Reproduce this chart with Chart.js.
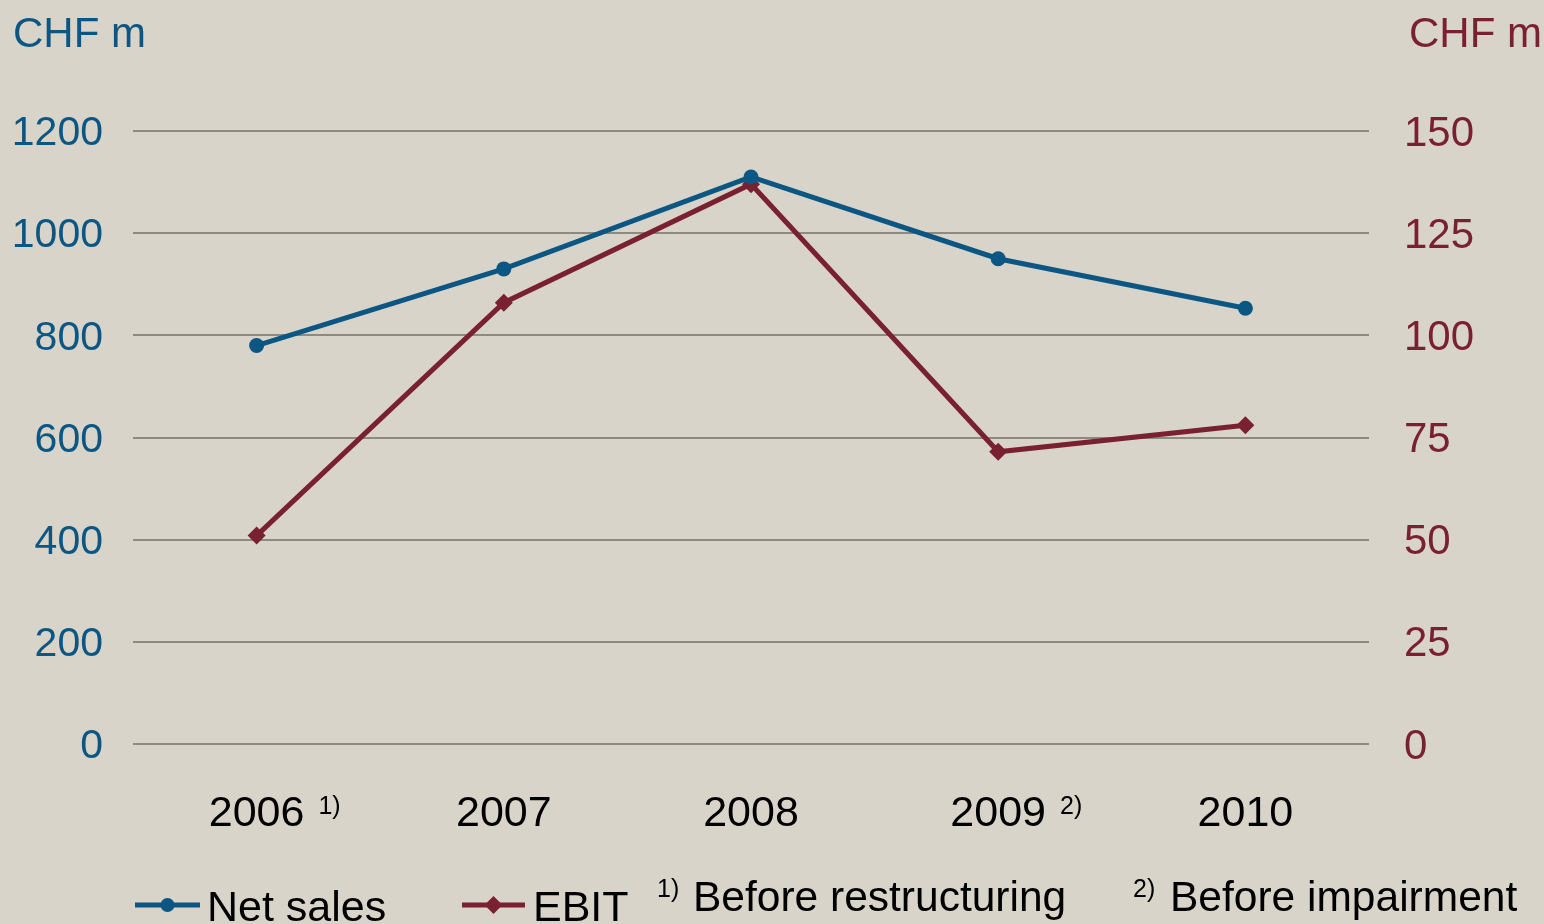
<!DOCTYPE html>
<html>
<head>
<meta charset="utf-8">
<script src="https://cdn.jsdelivr.net/npm/chart.js@4.4.0/dist/chart.umd.min.js"></script>
<style>
  html, body { margin: 0; padding: 0; background: #d8d4c9; }
  #wrap { width: 1544px; height: 924px; }
</style>
</head>
<body>
<div id="wrap"><canvas id="chart" width="1544" height="924"></canvas></div>
<script>
// ---- data ----
var years      = ['2006', '2007', '2008', '2009', '2010'];
var yearNotes  = ['1)', '', '', '2)', ''];
var netSales   = [780, 930, 1110, 950, 853];   // CHF m, left axis
var ebit       = [51, 108, 137, 71.5, 78];     // CHF m, right axis
var leftTicks  = [0, 1200, 200];               // min, max, step
var rightTicks = [0, 150, 25];
var footnotes  = ['Before restructuring', 'Before impairment'];

var BLUE = '#0b5683';
var RED = '#7a2131';
var BG = '#d8d4c9';
var FONT = "'Liberation Sans', Arial, sans-serif";

// draws the background, axis titles, year labels and the bottom legend row
var decorations = {
  id: 'decorations',
  beforeDraw: function (chart) {
    var ctx = chart.ctx;
    ctx.save();
    ctx.fillStyle = BG;
    ctx.fillRect(0, 0, chart.width, chart.height);
    ctx.restore();
  },
  afterDraw: function (chart) {
    var ctx = chart.ctx;
    var xs = chart.scales.x;
    ctx.save();

    // axis titles
    ctx.font = '42px ' + FONT;
    ctx.textBaseline = 'middle';
    ctx.fillStyle = BLUE;
    ctx.textAlign = 'left';
    ctx.fillText('CHF m', 13, 35);
    ctx.fillStyle = RED;
    ctx.fillText('CHF m', 1409, 35);

    // year labels with footnote markers
    ctx.fillStyle = '#000';
    years.forEach(function (y, i) {
      var px = xs.getPixelForValue(i);
      ctx.font = '43px ' + FONT;
      ctx.textAlign = 'center';
      ctx.textBaseline = 'alphabetic';
      ctx.fillText(y, px, 826);
      if (yearNotes[i]) {
        var w = ctx.measureText(y).width;
        ctx.font = '25px ' + FONT;
        ctx.textAlign = 'left';
        ctx.fillText(yearNotes[i], px + w / 2 + 14, 814);
      }
    });

    // legend
    var legendY = 905;
    function legendItem(x0, x1, color, marker, label, tx) {
      ctx.strokeStyle = color;
      ctx.lineWidth = 5;
      ctx.beginPath();
      ctx.moveTo(x0, legendY);
      ctx.lineTo(x1, legendY);
      ctx.stroke();
      ctx.fillStyle = color;
      var mx = (x0 + x1) / 2;
      ctx.beginPath();
      if (marker === 'circle') {
        ctx.arc(mx, legendY, 7, 0, Math.PI * 2);
      } else {
        ctx.moveTo(mx, legendY - 9);
        ctx.lineTo(mx + 9, legendY);
        ctx.lineTo(mx, legendY + 9);
        ctx.lineTo(mx - 9, legendY);
        ctx.closePath();
      }
      ctx.fill();
      ctx.fillStyle = '#000';
      ctx.font = '43px ' + FONT;
      ctx.textAlign = 'left';
      ctx.textBaseline = 'alphabetic';
      ctx.fillText(label, tx, 921);
    }
    legendItem(135, 200, BLUE, 'circle', chart.data.datasets[0].label, 207);
    legendItem(462, 525, RED, 'diamond', chart.data.datasets[1].label, 533);

    // footnotes
    ctx.fillStyle = '#000';
    ctx.font = '25px ' + FONT;
    ctx.fillText('1)', 657, 897);
    ctx.fillText('2)', 1133, 897);
    ctx.font = '42.5px ' + FONT;
    ctx.fillText(footnotes[0], 693, 911);
    ctx.fillText(footnotes[1], 1170, 911);

    ctx.restore();
  }
};

function plain(v) { return String(v); }

new Chart(document.getElementById('chart'), {
  type: 'line',
  data: {
    labels: years,
    datasets: [
      {
        label: 'Net sales',
        data: netSales,
        yAxisID: 'y',
        borderColor: BLUE,
        backgroundColor: BLUE,
        borderWidth: 5,
        pointStyle: 'circle',
        pointRadius: 7.5,
        pointBorderWidth: 0,
        tension: 0
      },
      {
        label: 'EBIT',
        data: ebit,
        yAxisID: 'y1',
        borderColor: RED,
        backgroundColor: RED,
        borderWidth: 5,
        pointStyle: 'rectRot',
        pointRadius: 9,
        pointBorderWidth: 0,
        tension: 0
      }
    ]
  },
  options: {
    responsive: false,
    animation: false,
    layout: { padding: { top: 131, left: 0, right: 0, bottom: 0 } },
    plugins: {
      legend: { display: false },
      tooltip: { enabled: false }
    },
    scales: {
      x: {
        offset: true,
        grid: { display: false },
        border: { display: false },
        ticks: { display: false },
        afterFit: function (s) { s.height = 180; }
      },
      y: {
        position: 'left',
        min: leftTicks[0], max: leftTicks[1],
        ticks: { stepSize: leftTicks[2], color: BLUE, padding: 30, labelOffset: 3, callback: plain, font: { family: FONT, size: 41 } },
        grid: { color: '#8d8b80', lineWidth: 2, drawTicks: false },
        border: { display: false },
        afterFit: function (s) { s.width = 133; }
      },
      y1: {
        position: 'right',
        min: rightTicks[0], max: rightTicks[1],
        ticks: { stepSize: rightTicks[2], color: RED, padding: 35, labelOffset: 3, callback: plain, font: { family: FONT, size: 42 } },
        grid: { display: false, drawTicks: false },
        border: { display: false },
        afterFit: function (s) { s.width = 175; }
      }
    }
  },
  plugins: [decorations]
});
</script>
</body>
</html>
